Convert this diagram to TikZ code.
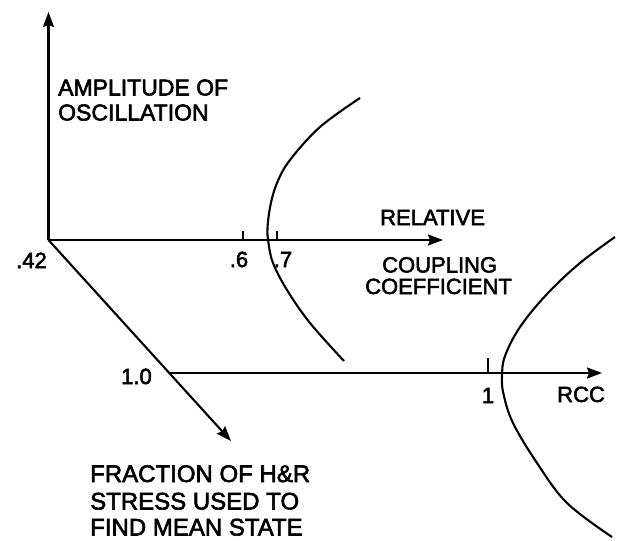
\documentclass[tikz,border=0pt]{standalone}
\usepackage{fontspec}
\setmainfont{Liberation Sans}
\newfontfamily\lbl[FakeBold=2.5]{Liberation Sans}
\usetikzlibrary{arrows.meta}
\tikzset{
  axis/.style={line width=2.1pt, -{Stealth[length=15pt,width=11pt,inset=2pt]}},
  tickmark/.style={line width=1.8pt},
  curve/.style={line width=2.1pt, smooth, tension=0.6},
  txt/.style={inner sep=0pt, font=\lbl\fontsize{22}{24}\selectfont},
  midtxt/.style={inner sep=0pt, font=\lbl\fontsize{23}{25}\selectfont},
  bigtxt/.style={inner sep=0pt, font=\lbl\fontsize{24}{26}\selectfont},
}
\begin{document}
\begin{tikzpicture}[x=1pt,y=-1pt]
\useasboundingbox (0,0) rectangle (617,540);
% axes
\coordinate (O) at (48.5,240);
\coordinate (ytop) at (48.5,12);
\coordinate (xtip) at (443,240);
\coordinate (dtip) at (231,441);
\coordinate (L) at (169,373);
\coordinate (ltip) at (602,373);
\draw[axis] (O) -- (ytop);
\draw[axis] (O) -- (xtip);
\draw[axis] (O) -- (dtip);
\draw[axis] (L) -- (ltip);
% ticks
\coordinate (t6) at (243,240); \coordinate (t6u) at (243,231);
\coordinate (t7) at (277,240); \coordinate (t7u) at (277,231);
\coordinate (t1) at (488,373); \coordinate (t1u) at (488,358);
\draw[tickmark] (t6) -- (t6u);
\draw[tickmark] (t7) -- (t7u);
\draw[tickmark] (t1) -- (t1u);
% parabolas
\draw[curve] plot coordinates {(360,98) (320,127) (290,160) (277,183) (270.5,205) (267.5,228) (268.5,243) (273,263) (287,290) (310,323) (344,361)};
\draw[curve] plot coordinates {(615,237) (580,263) (547,294) (520,327) (505,356) (502,376) (503.5,394) (513,423) (537,463) (567,503) (612,537)};
% labels
\node[midtxt, anchor=base west] (amp1) at (58,95.5) {AMPLITUDE OF};
\node[midtxt, anchor=base west] (amp2) at (58,120.5) {OSCILLATION};
\node[txt, anchor=base west] (rel) at (380,225) {RELATIVE};
\node[txt, anchor=base west] (coup) at (382,272.5) {COUPLING};
\node[txt, anchor=base west] (coef) at (365,294) {COEFFICIENT};
\node[txt, anchor=base] (l6) at (239,267) {.6};
\node[txt, anchor=base] (l7) at (283,267) {.7};
\node[txt, anchor=base east] (l42) at (47,268) {.42};
\node[txt, anchor=base east] (l10) at (152,384) {1.0};
\node[txt, anchor=base] (l1) at (488,403) {1};
\node[txt, anchor=base west] (rcc) at (557,402) {RCC};
\node[bigtxt, anchor=base west] (fr1) at (90,482) {FRACTION OF H\&R};
\node[bigtxt, anchor=base west] (fr2) at (90,509.5) {STRESS USED TO};
\node[bigtxt, anchor=base west] (fr3) at (90,535.5) {FIND MEAN STATE};
\end{tikzpicture}
\end{document}
